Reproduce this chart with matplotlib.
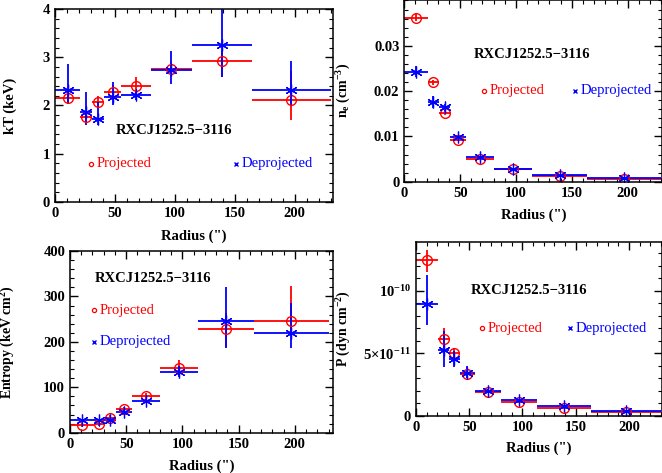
import numpy as np
import matplotlib
matplotlib.use('Agg')
import matplotlib.pyplot as plt
from matplotlib.ticker import MultipleLocator, FixedLocator, FixedFormatter

plt.rcParams['font.family'] = ['Liberation Serif', 'DejaVu Serif']
plt.rcParams['font.weight'] = 'bold'
plt.rcParams['mathtext.fontset'] = 'custom'
plt.rcParams['mathtext.rm'] = 'Liberation Serif:bold'
plt.rcParams['mathtext.it'] = 'Liberation Serif:bold'
plt.rcParams['mathtext.bf'] = 'Liberation Serif:bold'
plt.rcParams['mathtext.default'] = 'rm'

# radial bins (arcsec)
r_lo = np.array([0, 21, 31, 41, 55, 80, 114, 164])
r_hi = np.array([21, 31, 41, 55, 80, 114, 164, 230])
r_mid = np.array([10.5, 26, 36, 48, 67.5, 97, 139, 197])

# temperature (keV)
kT_proj = np.array([2.15, 1.76, 2.08, 2.28, 2.40, 2.76, 2.93, 2.12])
kT_proj_lo = np.array([0.12, 0.10, 0.12, 0.15, 0.20, 0.15, 0.33, 0.42])
kT_proj_hi = np.array([0.12, 0.10, 0.12, 0.15, 0.20, 0.15, 0.20, 0.60])
kT_deproj = np.array([2.33, 1.87, 1.72, 2.18, 2.21, 2.73, 3.25, 2.32])
kT_deproj_lo = np.array([0.28, 0.27, 0.12, 0.18, 0.10, 0.28, 0.65, 0.32])
kT_deproj_hi = np.array([0.52, 0.40, 0.36, 0.30, 0.10, 0.40, 0.80, 0.61])

# electron density (cm^-3)
ne_proj = np.array([0.0362, 0.0219, 0.0152, 0.0092, 0.0051, 0.0027, 0.0013, 0.0006])
ne_proj_err = np.array([0.0007, 0.0006, 0.0005, 0.0003, 0.0002, 0.0001, 0.0001, 0.0001])
ne_deproj = np.array([0.0243, 0.0176, 0.0164, 0.0099, 0.0055, 0.0029, 0.0015, 0.0009])
ne_deproj_err = np.array([0.0013, 0.0013, 0.0007, 0.0004, 0.0002, 0.0001, 0.0001, 0.0001])

# entropy (keV cm^2)
S_proj = np.array([18, 20, 33, 52, 80, 142, 228, 245])
S_proj_lo = np.array([5, 5, 5, 5, 8, 18, 40, 32])
S_proj_hi = np.array([5, 5, 5, 5, 8, 18, 36, 78])
S_deproj = np.array([27, 27, 27, 46, 70, 134, 246, 219])
S_deproj_lo = np.array([4, 4, 4, 4, 5, 12, 60, 32])
S_deproj_hi = np.array([4, 4, 4, 4, 5, 12, 75, 67])

# pressure (1e-11 dyn cm^-2)
P_proj = np.array([12.45, 6.13, 5.07, 3.39, 1.95, 1.15, 0.67, 0.35])
P_proj_lo = np.array([0.9, 0.7, 0.4, 0.2, 0.1, 0.1, 0.05, 0.05])
P_proj_hi = np.array([0.8, 0.9, 0.4, 0.2, 0.1, 0.1, 0.05, 0.05])
P_deproj = np.array([8.99, 5.25, 4.53, 3.47, 2.02, 1.25, 0.80, 0.42])
P_deproj_lo = np.array([1.7, 1.35, 0.6, 0.4, 0.15, 0.1, 0.1, 0.05])
P_deproj_hi = np.array([2.3, 1.55, 0.7, 0.5, 0.15, 0.1, 0.1, 0.05])

RED = '#ff0000'
BLUE = '#0000ff'
W, H = 662, 473

fig = plt.figure(figsize=(W / 100, H / 100), dpi=100)


def make_axes(left, right, top, bottom):
    return fig.add_axes([left / W, 1 - bottom / H, (right - left) / W, (bottom - top) / H])


def draw(ax, yp, yp_lo, yp_hi, yd, yd_lo, yd_hi, scale=1.0):
    xerr = [r_mid - r_lo, r_hi - r_mid]
    ax.errorbar(r_mid, yp * scale, xerr=xerr, yerr=[yp_lo * scale, yp_hi * scale],
                fmt='none', ecolor=RED, elinewidth=1.3, capsize=0)
    ax.errorbar(r_mid, yd * scale, xerr=xerr, yerr=[yd_lo * scale, yd_hi * scale],
                fmt='none', ecolor=BLUE, elinewidth=1.3, capsize=0)
    ax.plot(r_mid, yp * scale, 'o', ms=7, mfc='none', mec=RED, mew=1.0)
    ax.plot(r_mid, yd * scale, marker=(6, 2, 0), ls='none', ms=8.5, mec=BLUE, mew=0.9)


def style(ax, xmax, ymin, ymax, ymaj, ymin_step):
    ax.set_xlim(0, xmax)
    ax.set_ylim(ymin, ymax)
    ax.xaxis.set_major_locator(MultipleLocator(50))
    ax.xaxis.set_minor_locator(MultipleLocator(10))
    if ymaj is not None:
        ax.yaxis.set_major_locator(MultipleLocator(ymaj))
        ax.yaxis.set_minor_locator(MultipleLocator(ymin_step))
    ax.tick_params(which='both', direction='in', top=True, right=True, labelsize=10.5)
    ax.tick_params(which='major', length=6, width=1)
    ax.tick_params(which='minor', length=3, width=0.8)
    for s in ax.spines.values():
        s.set_linewidth(1.1)
    ax.set_xlabel('Radius (")', fontsize=10.5, fontweight='bold')
    ax.xaxis.set_label_coords(0.5, -0.145)


def labels(ax, tx, ty, px, py, dx, dy):
    ax.text(tx, ty, 'RXCJ1252.5\u22123116', fontsize=10.5, fontweight='bold', va='center')
    ax.plot([px], [py], 'o', ms=3, mfc='none', mec=RED, mew=0.9)
    ax.text(px + 5, py, 'Projected', color=RED, fontsize=10.5, fontweight='normal', va='center')
    ax.plot([dx], [dy], 'x', ms=3, mec=BLUE, mew=1.0)
    ax.text(dx + 5, dy, 'Deprojected', color=BLUE, fontsize=10.5, fontweight='normal', va='center')


# kT
ax1 = make_axes(55, 333, 9, 202)
draw(ax1, kT_proj, kT_proj_lo, kT_proj_hi, kT_deproj, kT_deproj_lo, kT_deproj_hi)
style(ax1, 232, 0, 4, 1, 0.2)
ax1.set_ylabel('kT (keV)', fontsize=10.5, fontweight='bold')
ax1.yaxis.set_label_coords(-0.135, 0.5)
labels(ax1, 51, 1.49, 30, 0.79, 151, 0.79)

# ne
ax2 = make_axes(404.3, 662.3, 0, 181.7)
draw(ax2, ne_proj, ne_proj_err, ne_proj_err, ne_deproj, ne_deproj_err, ne_deproj_err)
style(ax2, 231, 0, 0.0401, 0.01, 0.002)
ax2.yaxis.set_major_formatter(FixedFormatter(['0', '0.01', '0.02', '0.03']))
ax2.yaxis.set_major_locator(FixedLocator([0, 0.01, 0.02, 0.03]))
ax2.set_ylabel('n$_e$ (cm$^{-3}$)', fontsize=10, fontweight='bold')
ax2.yaxis.set_label_coords(-0.2, 0.5)
labels(ax2, 62, 0.028, 71, 0.0201, 153, 0.0201)

# entropy
ax3 = make_axes(70, 333, 251, 432.7)
draw(ax3, S_proj, S_proj_lo, S_proj_hi, S_deproj, S_deproj_lo, S_deproj_hi)
style(ax3, 234, 0, 400, 100, 20)
ax3.set_ylabel('Entropy (keV cm$^2$)', fontsize=10, fontweight='bold')
ax3.yaxis.set_label_coords(-0.2, 0.5)
labels(ax3, 21.6, 339, 21.3, 270, 21.3, 200)

# pressure
ax4 = make_axes(416, 662, 241.7, 416)
draw(ax4, P_proj, P_proj_lo, P_proj_hi, P_deproj, P_deproj_lo, P_deproj_hi, scale=1e-11)
style(ax4, 231, 0, 1.394e-10, None, None)
ax4.yaxis.set_major_locator(FixedLocator([0, 5e-11, 1e-10]))
ax4.yaxis.set_major_formatter(FixedFormatter(['0', '5\u00d710$^{-11}$', '10$^{-10}$']))
ax4.yaxis.set_minor_locator(MultipleLocator(1e-11))
ax4.set_ylabel('P (dyn cm$^{-2}$)', fontsize=10, fontweight='bold')
ax4.yaxis.set_label_coords(-0.258, 0.5)
labels(ax4, 51.7, 10.0e-11, 61.8, 7.0e-11, 145, 7.0e-11)

fig.savefig('out.png', dpi=100)
